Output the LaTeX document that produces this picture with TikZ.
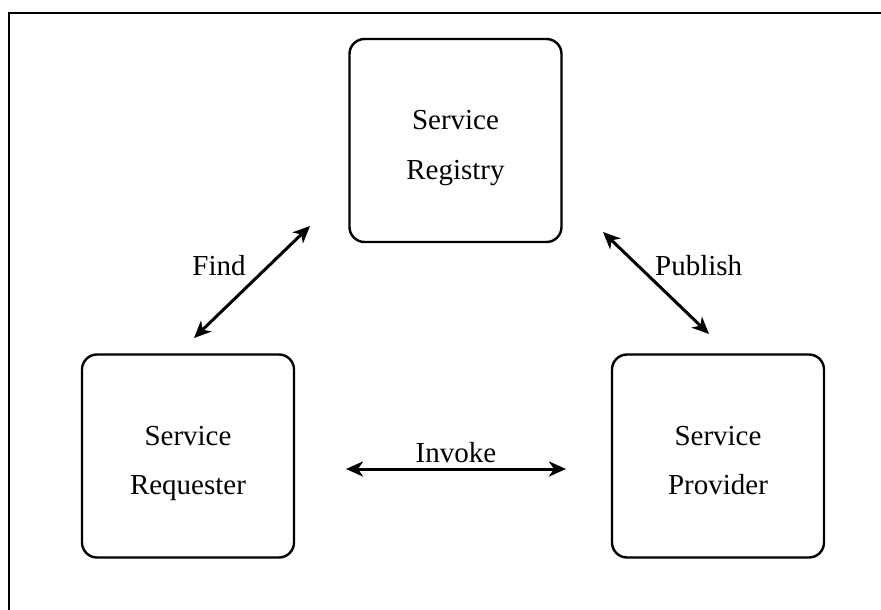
\documentclass[tikz,border=0pt]{standalone}
\usepackage{fontspec}
\setmainfont{Liberation Serif}
\usetikzlibrary{arrows.meta,calc}
\begin{document}
\begin{tikzpicture}[x=1pt,y=-1pt,
  box/.style={draw,line width=2.4pt,rounded corners=15pt,minimum width=212pt,minimum height=203pt,inner sep=0pt},
  lbl/.style={font=\fontsize{29}{35}\selectfont,inner sep=0pt,anchor=base},
  tip/.style={Stealth[length=17pt,width=15pt,inset=5pt]},
  link/.style={line width=3pt,{Stealth[length=17pt,width=15pt,inset=5pt]}-{Stealth[length=17pt,width=15pt,inset=5pt]}}]
  \useasboundingbox (0,0) rectangle (881,610);
  % outer frame (top and left sides)
  \draw[line width=2.2pt] (9,610) -- (9,13) -- (881,13);

  % the three parties
  \node[box] (reg) at (455.5,140.5) {};
  \node[box] (req) at (188,456) {};
  \node[box] (prov) at (718,456) {};

  \node[lbl] (regA) at ($(reg.north)+(0,92)$) {Service};
  \node[lbl] (regB) at ($(reg.north)+(0,142)$) {Registry};
  \node[lbl] (reqA) at ($(req.north)+(0,92)$) {Service};
  \node[lbl] (reqB) at ($(req.north)+(0,141)$) {Requester};
  \node[lbl] (provA) at ($(prov.north)+(0,92)$) {Service};
  \node[lbl] (provB) at ($(prov.north)+(0,141)$) {Provider};

  % connector end points
  \coordinate (findA) at (194,338);
  \coordinate (findB) at (310,226);
  \coordinate (pubA) at (603,232);
  \coordinate (pubB) at (709,334);
  \coordinate (invA) at (346,469);
  \coordinate (invB) at (566,469);

  \draw[link] (findA) -- (findB);
  \draw[link] (pubA) -- (pubB);
  \draw[link] (invA) -- (invB);

  \node[lbl] (find) at (219,275) {Find};
  \node[lbl,anchor=base west] (pub) at (655,275) {Publish};
  \node[lbl] (inv) at (456,462) {Invoke};
\end{tikzpicture}
\end{document}
